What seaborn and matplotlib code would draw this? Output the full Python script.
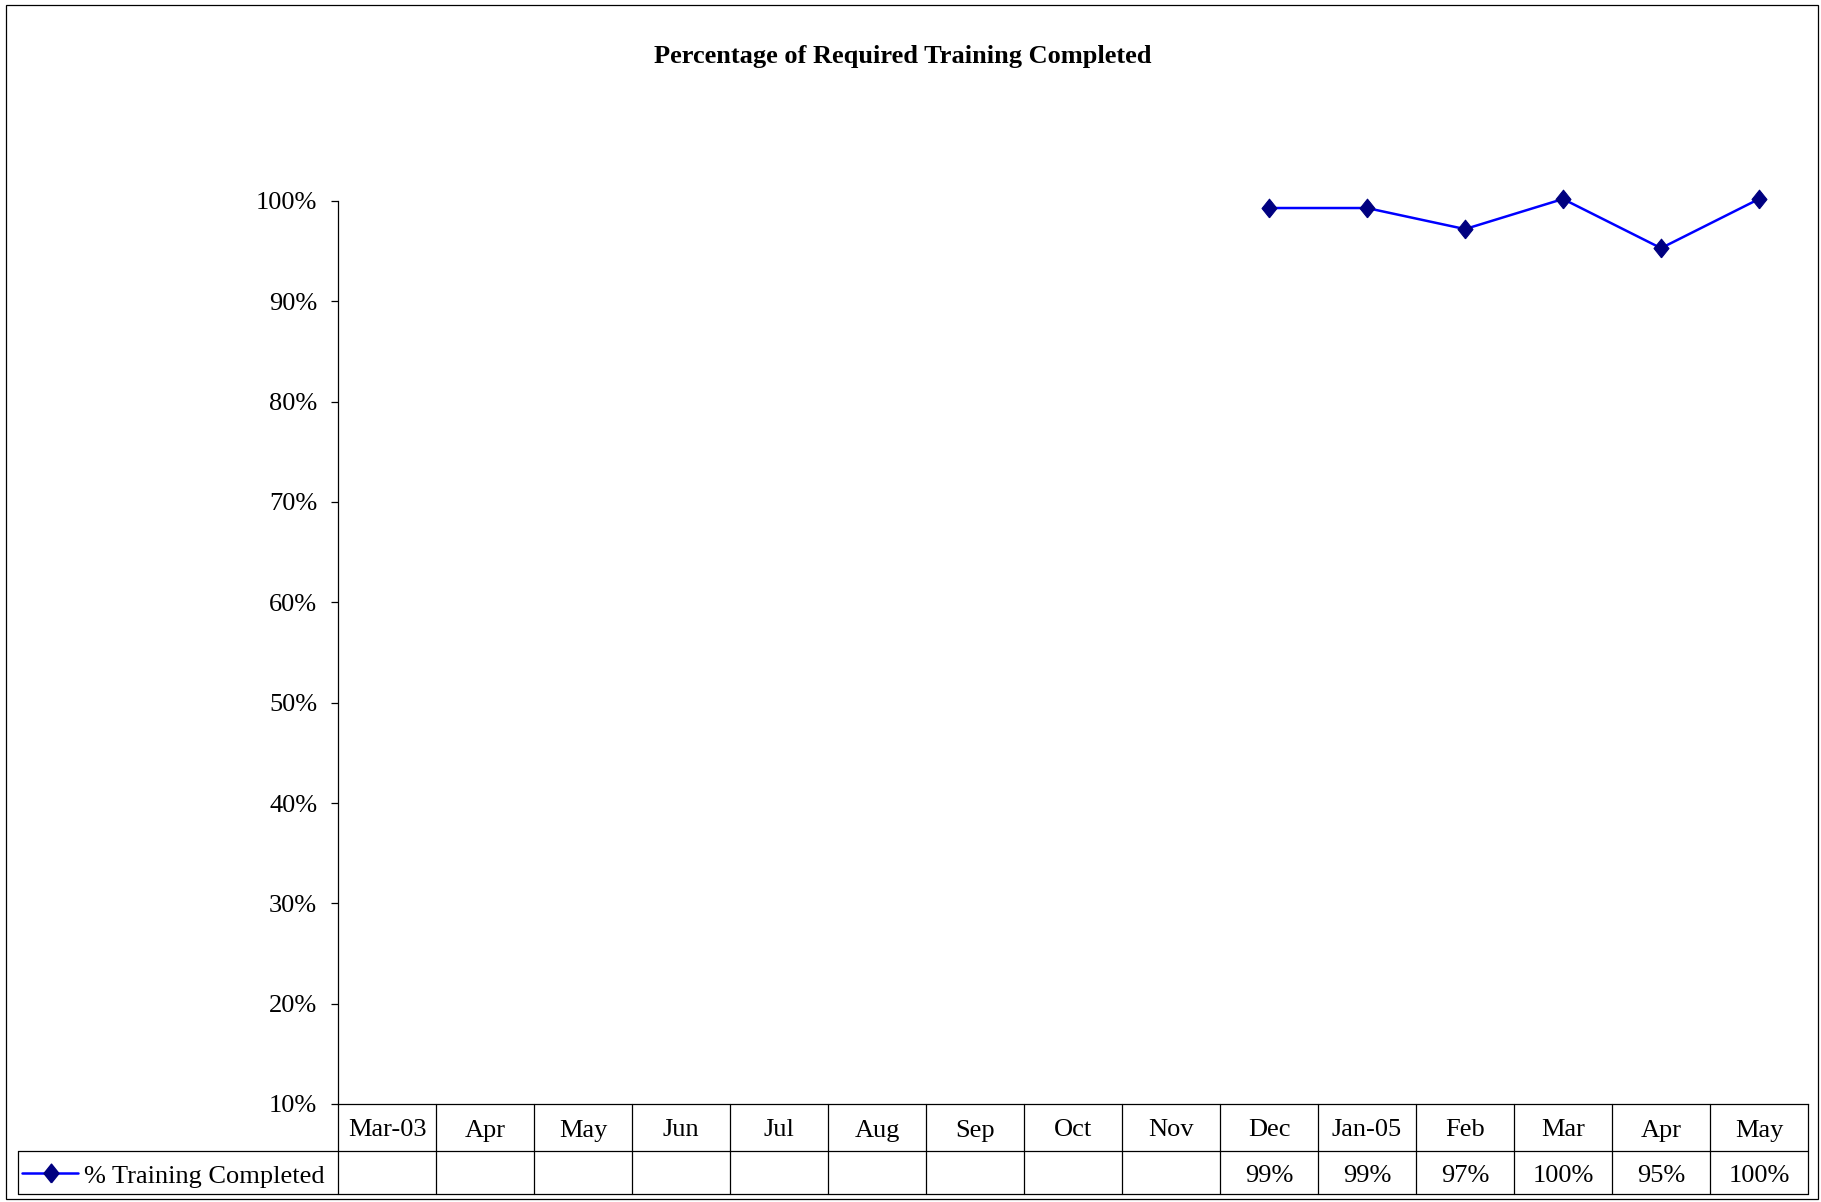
import numpy as np
import pandas as pd
import matplotlib
matplotlib.use("Agg")
import matplotlib.pyplot as plt
import matplotlib.transforms as mtransforms
from matplotlib.lines import Line2D
from matplotlib.patches import Rectangle
import seaborn as sns

# data
months = ["Mar-03", "Apr", "May", "Jun", "Jul", "Aug", "Sep", "Oct", "Nov",
          "Dec", "Jan-05", "Feb", "Mar", "Apr", "May"]
completed = [np.nan] * 9 + [0.993, 0.993, 0.972, 1.002, 0.953, 1.002]
table_labels = [""] * 9 + ["99%", "99%", "97%", "100%", "95%", "100%"]
yticks = [0.1, 0.2, 0.3, 0.4, 0.5, 0.6, 0.7, 0.8, 0.9, 1.0]
series_name = "% Training Completed"

df = pd.DataFrame({"pos": np.arange(len(months)), "value": completed})

sns.set_style("white")
plt.rcParams["font.family"] = ["Liberation Serif", "DejaVu Serif"]
plt.rcParams["text.color"] = "black"
plt.rcParams["ytick.color"] = "black"
plt.rcParams["ytick.labelcolor"] = "black"

FS = 19
W, H = 1821, 1202
fig = plt.figure(figsize=(W / 100, H / 100), dpi=100)
ax = fig.add_axes([338 / W, 1 - 1104 / H, (1808 - 338) / W, (1104 - 201) / H])

diamond = [(0, -1), (0.8, 0), (0, 1), (-0.8, 0), (0, -1)]
sns.lineplot(data=df, x="pos", y="value", ax=ax, color="#0000FF", linewidth=1.8,
             marker=diamond, markersize=13.5, markerfacecolor="#000080",
             markeredgecolor="#000080", clip_on=False)

ax.set_xlim(-0.5, len(months) - 0.5)
ax.set_ylim(0.1, 1.0)
ax.set_yticks(yticks)
ax.set_yticklabels([f"{int(round(t * 100))}%" for t in yticks], fontsize=FS)
ax.set_xticks([])
ax.set_xlabel("")
ax.set_ylabel("")
ax.tick_params(axis="y", direction="out", length=5, width=0.9, color="black",
               pad=10, left=True)
for s in ["top", "right"]:
    ax.spines[s].set_visible(False)
for s in ["left", "bottom"]:
    ax.spines[s].set_color("black")
    ax.spines[s].set_linewidth(0.9)

# data table below the plot
def fy(py):
    return 1 - py / H

trans = mtransforms.blended_transform_factory(ax.transData, fig.transFigure)
r0, r1, r2 = 1104, 1151, 1194
n = len(months)
for i in range(n + 1):
    ax.plot([i - 0.5, i - 0.5], [fy(r0), fy(r2)], color="black", lw=0.9,
            transform=trans, clip_on=False)
for i, (m, lab) in enumerate(zip(months, table_labels)):
    ax.text(i, fy((r0 + r1) / 2 + 3), m, transform=trans, ha="center", va="center",
            fontsize=FS)
    ax.text(i, fy((r1 + r2) / 2 + 4), lab, transform=trans, ha="center", va="center",
            fontsize=FS)

left_px = 18
for py in [r1, r2]:
    fig.add_artist(Line2D([left_px / W, 1808 / W], [fy(py), fy(py)], color="black",
                          lw=0.9, transform=fig.transFigure))
fig.add_artist(Line2D([left_px / W, left_px / W], [fy(r1), fy(r2)], color="black",
                      lw=0.9, transform=fig.transFigure))
# legend key in the table
ly = fy((r1 + r2) / 2)
fig.add_artist(Line2D([22 / W, 78 / W], [ly, ly], color="#0000FF", lw=1.8,
                      transform=fig.transFigure))
fig.add_artist(Line2D([51 / W], [ly], marker=diamond, markersize=13.5,
                      markerfacecolor="#000080", markeredgecolor="#000080",
                      linestyle="none", transform=fig.transFigure))
fig.text(84 / W, fy((r1 + r2) / 2 + 4), series_name, ha="left", va="center",
         fontsize=FS)

fig.text(903 / W, fy(57), "Percentage of Required Training Completed",
         ha="center", va="center", fontsize=19, fontweight="bold")

# chart border
fig.add_artist(Rectangle((6 / W, fy(1199)), (1818 - 6) / W, (1199 - 5) / H,
                         fill=False, edgecolor="black", lw=0.9,
                         transform=fig.transFigure))

fig.savefig("out.png", dpi=100)
